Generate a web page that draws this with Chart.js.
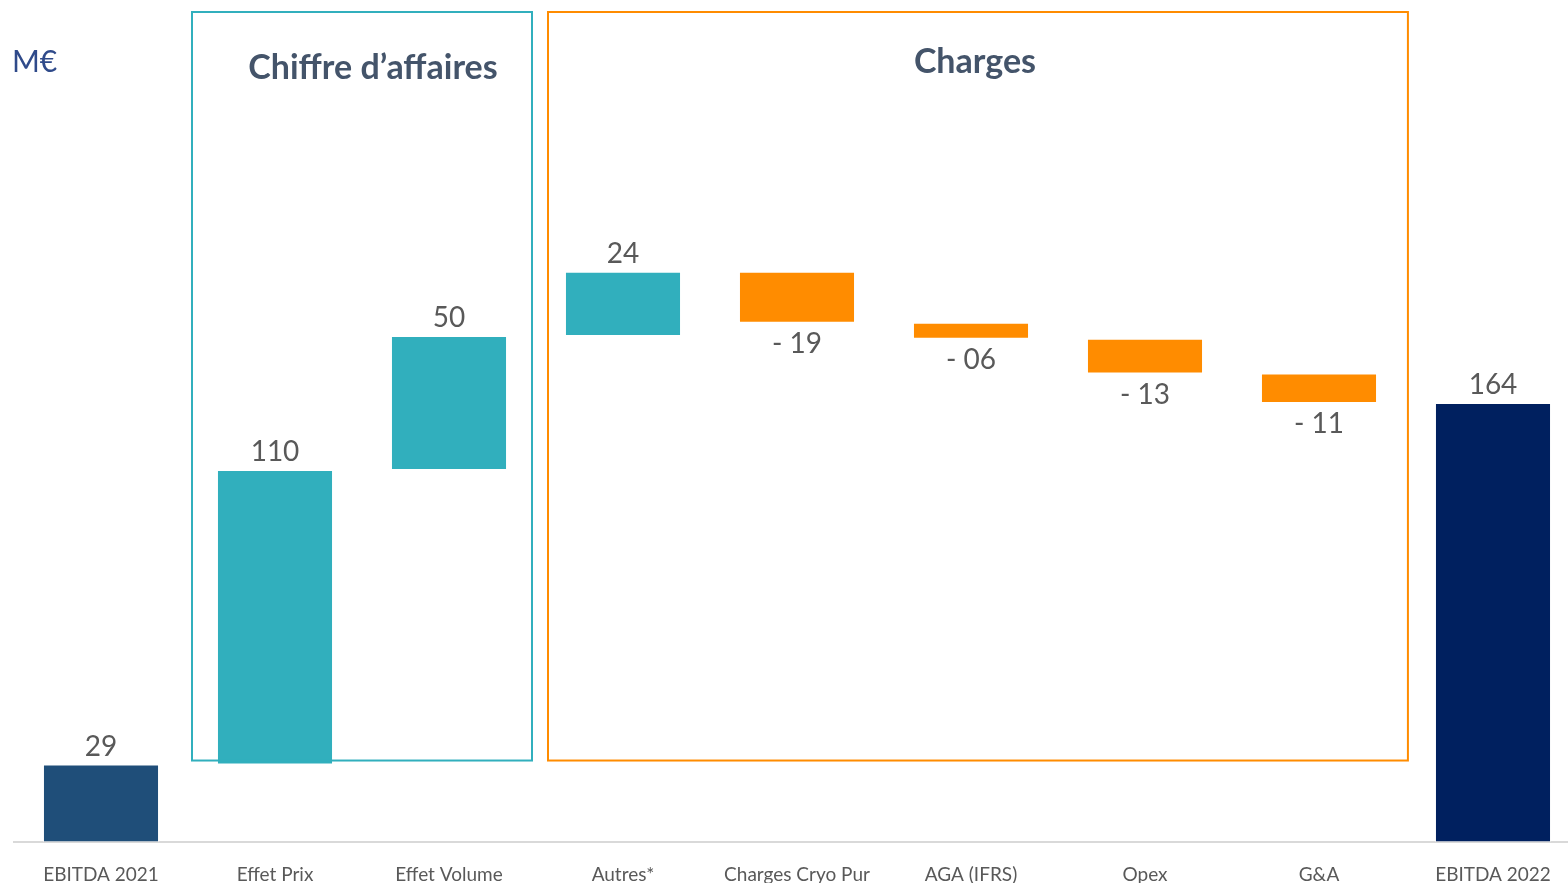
<!DOCTYPE html>
<html>
<head>
<meta charset="utf-8">
<script src="https://cdn.jsdelivr.net/npm/chart.js@4.4.1/dist/chart.umd.min.js"></script>
<style>
  html, body { margin: 0; padding: 0; background: #fff; overflow: hidden; }
  #wrap { position: relative; width: 1580px; height: 883px; }
</style>
</head>
<body>
<div id="wrap"><canvas id="main-chart"></canvas></div>
<script>
const categories = ['EBITDA 2021','Effet Prix','Effet Volume','Autres*','Charges Cryo Pur','AGA (IFRS)','Opex','G&A','EBITDA 2022'];
const deltas     = [29, 110, 50, 24, -19, -6, -13, -11, 164];
const isTotal    = [true, false, false, false, false, false, false, false, true];
const valueLabels = ['29','110','50','24','- 19','- 06','- 13','- 11','164'];
const barColors  = ['#1F4E79','#31AFBD','#31AFBD','#31AFBD','#FF8C00','#FF8C00','#FF8C00','#FF8C00','#00205F'];

// waterfall ranges from the deltas
let run = 0;
const ranges = deltas.map((d, i) => {
  if (isTotal[i]) { run = d; return [0, d]; }
  const r = [run, run + d];
  run += d;
  return r;
});

const FONT = 'Lato, "Open Sans", sans-serif';
const TXT = '#595959';

const groups = [
  { title: 'Chiffre d\u2019affaires', from: 1, to: 2, l: 0.477, r: 0.477, color: '#31AFBD', ty: 68, dx: 11 },
  { title: 'Charges', from: 3, to: 7, l: 0.431, r: 0.511, color: '#FF8C00', ty: 62, dx: -3 }
];

const boxes = {
  id: 'boxes',
  afterDatasetsDraw(chart) {
    const { ctx, scales: { x, y } } = chart;
    const step = x.getPixelForValue(1) - x.getPixelForValue(0);
    ctx.save();
    groups.forEach(g => {
      const left  = x.getPixelForValue(g.from) - g.l * step;
      const right = x.getPixelForValue(g.to) + g.r * step;
      const top = 12, bottom = y.getPixelForValue(30.5);
      ctx.strokeStyle = g.color;
      ctx.lineWidth = 2;
      ctx.strokeRect(left, top, right - left, bottom - top);
      ctx.fillStyle = '#44546A';
      ctx.font = `bold 34px ${FONT}`;
      ctx.textAlign = 'center';
      ctx.textBaseline = 'middle';
      ctx.fillText(g.title, (left + right) / 2 + g.dx, g.ty);
    });
    ctx.fillStyle = '#2F4A8A';
    ctx.font = `30px ${FONT}`;
    ctx.textAlign = 'left';
    ctx.fillText('M\u20AC', 12, 62);

    // value labels
    const meta = chart.getDatasetMeta(0);
    ctx.fillStyle = TXT;
    ctx.font = `28px ${FONT}`;
    ctx.textAlign = 'center';
    meta.data.forEach((bar, i) => {
      const top = Math.min(bar.y, bar.base), bot = Math.max(bar.y, bar.base);
      if (deltas[i] >= 0) ctx.fillText(valueLabels[i], bar.x, top - 18);
      else ctx.fillText(valueLabels[i], bar.x, bot + 21);
    });
    ctx.restore();
  }
};

new Chart(document.getElementById('main-chart'), {
  type: 'bar',
  data: {
    labels: categories,
    datasets: [{
      data: ranges,
      backgroundColor: barColors,
      borderColor: 'rgba(255,255,255,0.35)',
      borderWidth: 1,
      borderSkipped: false,
      barPercentage: 0.667,
      categoryPercentage: 1
    }]
  },
  options: {
    responsive: true, maintainAspectRatio: false,
    animation: false,
    layout: { padding: { left: 14, right: 0, top: 0, bottom: -24 } },
    plugins: { legend: { display: false }, tooltip: { enabled: false } },
    scales: {
      x: {
        grid: { display: false, drawTicks: false },
        border: { color: '#D9D9D9', width: 2 },
        ticks: { color: TXT, font: { family: FONT, size: 19 }, padding: 21, maxRotation: 0, autoSkip: false }
      },
      y: {
        display: false,
        min: 0, max: 314.5
      }
    }
  },
  plugins: [boxes]
});
</script>
</body>
</html>
